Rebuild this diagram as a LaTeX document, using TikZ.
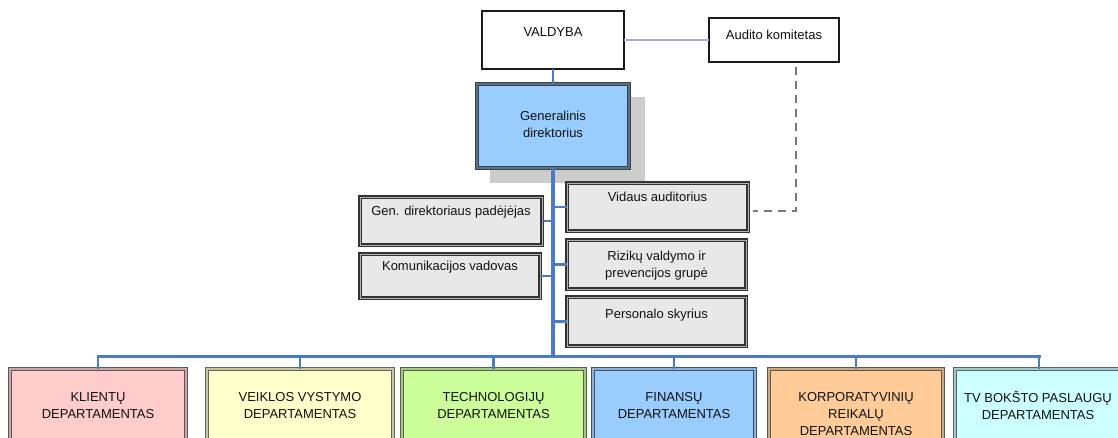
\documentclass[tikz,border=0pt]{standalone}
\usepackage{fontspec}
\setmainfont{Liberation Sans}
\usetikzlibrary{calc}
\definecolor{conblue}{HTML}{4A7CC4}
\definecolor{lightcon}{HTML}{9DB2D2}
\definecolor{dashgrey}{HTML}{7A7A7A}
\definecolor{shadowc}{HTML}{CCCCCC}
\definecolor{greyfill}{HTML}{E8E8E8}
\definecolor{gdfill}{HTML}{99CCFF}
\definecolor{klfill}{HTML}{FFCCCC}
\definecolor{vefill}{HTML}{FFFFCC}
\definecolor{tefill}{HTML}{CCFF99}
\definecolor{fifill}{HTML}{99CCFF}
\definecolor{kofill}{HTML}{FFCC99}
\definecolor{tvfill}{HTML}{CCFFFF}
\definecolor{txt}{HTML}{111111}
\tikzset{
  box/.style={rectangle, inner sep=0pt, outer sep=0pt},
  plainbox/.style={box, draw=black!90, line width=1.5pt, fill=white},
  greybox/.style={box, draw=black!80, double=gray!60, double distance=0.9pt, line width=1.1pt, fill=greyfill},
  gdbox/.style={box, draw=black!75, double=gdfill!55!black, double distance=1.3pt, line width=1pt, fill=gdfill},
  deptbox/.style={box, line width=1pt, double distance=1.4pt},
  lbl/.style={inner sep=0pt, align=center, text=txt, font=\fontsize{13}{17}\selectfont},
  branch/.style={draw=conblue, line width=2.2pt},
  trunk/.style={draw=conblue, line width=3.8pt},
  busline/.style={draw=conblue, line width=3pt},
  drop/.style={draw=conblue, line width=2.6pt},
  lightline/.style={draw=lightcon, line width=2pt},
  dashline/.style={draw=dashgrey, line width=2pt, dash pattern=on 8pt off 6pt}
}
\begin{document}
\begin{tikzpicture}[x=1pt,y=-1pt]
\clip (0,0) rectangle (1118,437);
\fill[white] (0,0) rectangle (1118,437);
% top boxes
\node[plainbox, minimum width=142pt, minimum height=58pt] (valdyba) at (553,40) {};
\node[lbl] (valdybat) at (553,32) {VALDYBA};
\node[plainbox, minimum width=130pt, minimum height=44pt] (audit) at (774,40) {};
\node[lbl] (auditt) at (774,35) {Audito komitetas};
% general director with shadow
\fill[shadowc] (490,97) rectangle (645,183);
\node[gdbox, minimum width=152pt, minimum height=84pt] (gd) at (553,126) {};
\node[lbl] (gdt) at (553,124.5) {Generalinis\\direktorius};
% staff boxes
\node[greybox, minimum width=182pt, minimum height=48pt] (gdp) at (451,221) {};
\node[lbl] (gdpt) at (451,212) {Gen. direktoriaus padėjėjas};
\node[greybox, minimum width=180pt, minimum height=44pt] (kom) at (450,276) {};
\node[lbl] (komt) at (450,267) {Komunikacijos vadovas};
\node[greybox, minimum width=181pt, minimum height=48pt] (vid) at (657.5,207) {};
\node[lbl] (vidt) at (657.5,197) {Vidaus auditorius};
\node[greybox, minimum width=179pt, minimum height=49pt] (riz) at (656.5,264.5) {};
\node[lbl] (rizt) at (656.5,266) {Rizikų valdymo ir\\prevencijos grupė};
\node[greybox, minimum width=179pt, minimum height=49pt] (pers) at (656.5,321.5) {};
\node[lbl] (perst) at (656.5,315) {Personalo skyrius};
% departments
\node[deptbox, draw=klfill!40!black, double=klfill!55!gray, fill=klfill, minimum width=176pt, minimum height=90pt, anchor=north] (kl) at (98,369) {};
\node[lbl] (klt) at (98,405.5) {KLIENTŲ\\DEPARTAMENTAS};
\node[deptbox, draw=vefill!40!black, double=vefill!55!gray, fill=vefill, minimum width=186pt, minimum height=90pt, anchor=north] (ve) at (300,369) {};
\node[lbl] (vet) at (300,405.5) {VEIKLOS VYSTYMO\\DEPARTAMENTAS};
\node[deptbox, draw=tefill!40!black, double=tefill!55!gray, fill=tefill, minimum width=183pt, minimum height=90pt, anchor=north] (te) at (493.5,369) {};
\node[lbl] (tet) at (493.5,405.5) {TECHNOLOGIJŲ\\DEPARTAMENTAS};
\node[deptbox, draw=fifill!40!black, double=fifill!65!gray, fill=fifill, minimum width=162pt, minimum height=90pt, anchor=north] (fi) at (674,369) {};
\node[lbl] (fit) at (674,405.5) {FINANSŲ\\DEPARTAMENTAS};
\node[deptbox, draw=kofill!40!black, double=kofill!55!gray, fill=kofill, minimum width=174pt, minimum height=90pt, anchor=north] (ko) at (856,369) {};
\node[lbl] (kot) at (856,414) {KORPORATYVINIŲ\\REIKALŲ\\DEPARTAMENTAS};
\node[deptbox, draw=tvfill!40!black, double=tvfill!55!gray, fill=tvfill, minimum width=168pt, minimum height=90pt, anchor=north] (tv) at (1039,369) {};
\node[lbl] (tvt) at (1038,405.5) {TV BOKŠTO PASLAUGŲ\\DEPARTAMENTAS};
% connectors
\coordinate (busc) at (553,356);
\coordinate (dc) at (796,211);
\draw[lightline] (valdyba.east) -- (audit.west);
\draw[branch] (valdyba.south) -- (gd.north);
\draw[dashline, shorten <=5pt, shorten >=5pt] (audit.south -| dc) -- (dc) -- (vid.east |- dc);
\draw[branch] (gdp.east) -- (gdp.east -| busc);
\draw[branch] (kom.east) -- (kom.east -| busc);
\draw[branch] (vid.west) -- (vid.west -| busc);
\draw[branch] (riz.west) -- (riz.west -| busc);
\draw[branch] (pers.west) -- (pers.west -| busc);
\draw[trunk] (gd.south) -- (busc);
\draw[busline, line cap=rect] (kl.north |- busc) -- (tv.north |- busc);
\foreach \d in {kl,ve,te,fi,ko,tv} {
  \draw[drop] (\d.north |- busc) -- (\d.north);
}
\end{tikzpicture}
\end{document}
